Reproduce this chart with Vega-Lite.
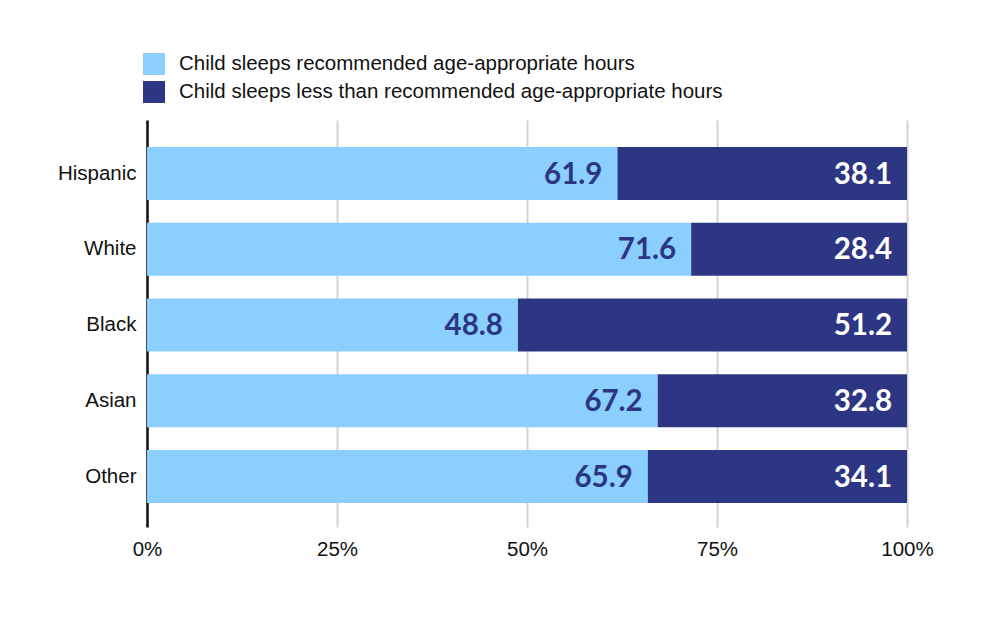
{
  "$schema": "https://vega.github.io/schema/vega-lite/v6.json",
  "autosize": "none",
  "padding": {"left": 147, "top": 120, "right": 93, "bottom": 95},
  "width": 760,
  "height": 407,
  "background": "white",
  "config": {
    "view": {"stroke": null},
    "font": "Liberation Sans"
  },
  "data": {
    "values": [
      {"group": "Hispanic", "category": "Child sleeps recommended age-appropriate hours", "value": 61.9},
      {"group": "Hispanic", "category": "Child sleeps less than recommended age-appropriate hours", "value": 38.1},
      {"group": "White", "category": "Child sleeps recommended age-appropriate hours", "value": 71.6},
      {"group": "White", "category": "Child sleeps less than recommended age-appropriate hours", "value": 28.4},
      {"group": "Black", "category": "Child sleeps recommended age-appropriate hours", "value": 48.8},
      {"group": "Black", "category": "Child sleeps less than recommended age-appropriate hours", "value": 51.2},
      {"group": "Asian", "category": "Child sleeps recommended age-appropriate hours", "value": 67.2},
      {"group": "Asian", "category": "Child sleeps less than recommended age-appropriate hours", "value": 32.8},
      {"group": "Other", "category": "Child sleeps recommended age-appropriate hours", "value": 65.9},
      {"group": "Other", "category": "Child sleeps less than recommended age-appropriate hours", "value": 34.1}
    ]
  },
  "transform": [
    {
      "stack": "value",
      "groupby": ["group"],
      "sort": [{"field": "category", "order": "descending"}],
      "as": ["v0", "v1"]
    }
  ],
  "encoding": {
    "y": {
      "field": "group",
      "type": "nominal",
      "sort": ["Hispanic", "White", "Black", "Asian", "Other"],
      "scale": {"paddingInner": 0.3, "paddingOuter": 0.337, "align": 0.53},
      "axis": {
        "title": null,
        "domainColor": "#111111",
        "domainWidth": 2.5,
        "ticks": false,
        "labelFontSize": 20.5,
        "labelColor": "#111111",
        "labelPadding": 11
      }
    }
  },
  "layer": [
    {
      "mark": {"type": "bar"},
      "encoding": {
        "x": {
          "field": "v0",
          "type": "quantitative",
          "scale": {"domain": [0, 100], "nice": false},
          "axis": {
            "title": null,
            "values": [0, 25, 50, 75, 100],
            "labelExpr": "datum.value + '%'",
            "labelFlush": false,
            "domain": false,
            "ticks": false,
            "grid": true,
            "gridColor": "#d4d4d4",
            "gridWidth": 2,
            "labelFontSize": 20.5,
            "labelColor": "#111111",
            "labelPadding": 12
          }
        },
        "x2": {"field": "v1"},
        "color": {
          "field": "category",
          "type": "nominal",
          "scale": {
            "domain": [
              "Child sleeps recommended age-appropriate hours",
              "Child sleeps less than recommended age-appropriate hours"
            ],
            "range": ["#8BCFFF", "#2C3683"]
          },
          "legend": {
            "title": null,
            "orient": "none",
            "legendX": -4,
            "legendY": -67,
            "direction": "vertical",
            "symbolType": "square",
            "symbolSize": 484,
            "symbolStrokeWidth": 0,
            "rowPadding": 6,
            "labelOffset": 14,
            "labelFontSize": 20.5,
            "labelColor": "#111111",
            "labelLimit": 800,
            "padding": 0
          }
        }
      }
    },
    {
      "mark": {
        "type": "text",
        "align": "right",
        "baseline": "middle",
        "dx": -15,
        "dy": 1,
        "font": "Lato",
        "fontWeight": "bold",
        "fontSize": 29.5
      },
      "encoding": {
        "x": {"field": "v1", "type": "quantitative"},
        "text": {"field": "value", "type": "quantitative", "format": ".1f"},
        "color": {
          "condition": {
            "test": "datum.category === 'Child sleeps recommended age-appropriate hours'",
            "value": "#2C3683"
          },
          "value": "#ffffff"
        }
      }
    }
  ]
}
